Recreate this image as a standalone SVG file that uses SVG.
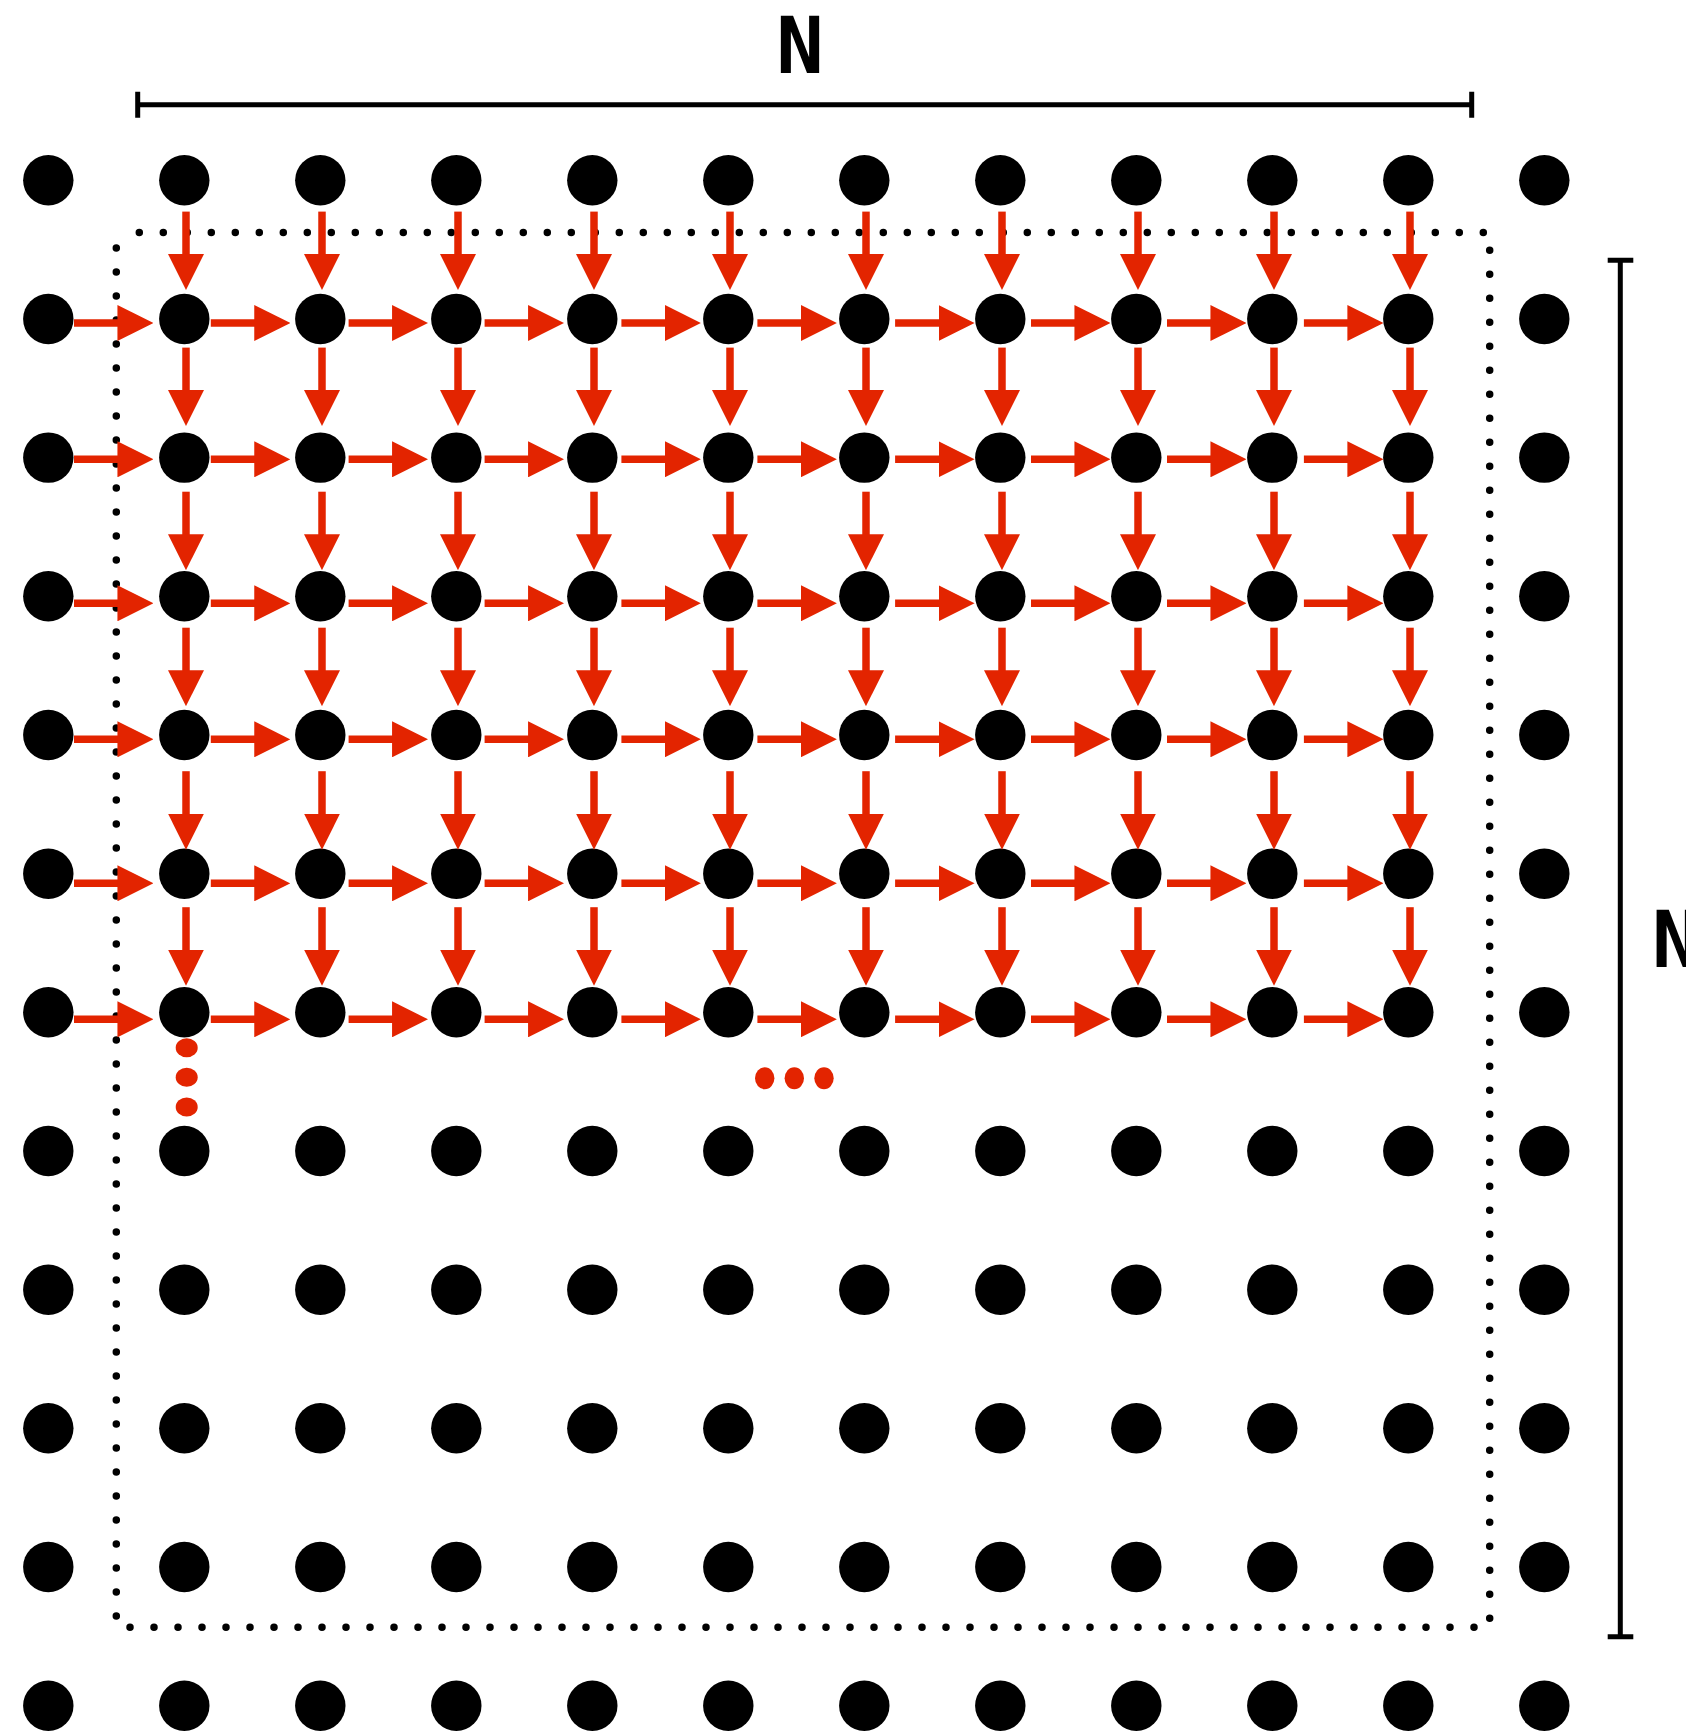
<svg xmlns="http://www.w3.org/2000/svg" width="1686" height="1732" viewBox="0 0 1686 1732">
<style>
.dot{fill:#000}
.ar{stroke:#e32400;stroke-width:7.5;fill:none;marker-end:url(#ah)}
.bd{stroke:#000;stroke-width:7.5;stroke-linecap:round;stroke-dasharray:0 24;fill:none}
.dim{stroke:#000;stroke-width:5;fill:none}
.lbl{font-family:"DejaVu Sans Mono","Liberation Mono",monospace;font-weight:bold;font-size:79px;fill:#000}
.ell{fill:#e32400}
</style>
<defs>
<marker id="ah" markerUnits="userSpaceOnUse" markerWidth="36" markerHeight="36" viewBox="0 0 35 35" refX="5" refY="17.5" orient="auto"><path d="M0,0 L35,17.5 L0,35Z" fill="#e32400"/></marker>
</defs>
<rect width="1686" height="1732" fill="#fff"/>
<g id="dimensions">
<path class="dim" d="M137.7 104.7H1471.7M137.7 91.7V117.7M1471.7 91.7V117.7"/>
<path class="dim" d="M1620.3 260.2V1636.8M1607.7 260.2H1633.3M1607.7 1636.8H1633.3"/>
<text class="lbl" x="800" y="72.7" text-anchor="middle">N</text>
<text class="lbl" x="1652" y="966.7">N</text>
</g>
<g id="border">
<path class="bd" d="M139.3 232.5H1484"/>
<path class="bd" d="M116.3 248V1616.6"/>
<path class="bd" d="M1489.7 250.3V1619"/>
<path class="bd" d="M130 1627.3H1474.3"/>
</g>
<g id="nodes">
<g id="n0_0"><circle class="dot" cx="48.3" cy="180.3" r="25.2"/></g>
<g id="n0_1"><circle class="dot" cx="184.3" cy="180.3" r="25.2"/></g>
<g id="n0_2"><circle class="dot" cx="320.3" cy="180.3" r="25.2"/></g>
<g id="n0_3"><circle class="dot" cx="456.3" cy="180.3" r="25.2"/></g>
<g id="n0_4"><circle class="dot" cx="592.3" cy="180.3" r="25.2"/></g>
<g id="n0_5"><circle class="dot" cx="728.3" cy="180.3" r="25.2"/></g>
<g id="n0_6"><circle class="dot" cx="864.3" cy="180.3" r="25.2"/></g>
<g id="n0_7"><circle class="dot" cx="1000.3" cy="180.3" r="25.2"/></g>
<g id="n0_8"><circle class="dot" cx="1136.3" cy="180.3" r="25.2"/></g>
<g id="n0_9"><circle class="dot" cx="1272.3" cy="180.3" r="25.2"/></g>
<g id="n0_10"><circle class="dot" cx="1408.3" cy="180.3" r="25.2"/></g>
<g id="n0_11"><circle class="dot" cx="1544.3" cy="180.3" r="25.2"/></g>
<g id="n1_0"><circle class="dot" cx="48.3" cy="319" r="25.2"/></g>
<g id="n1_1"><circle class="dot" cx="184.3" cy="319" r="25.2"/></g>
<g id="n1_2"><circle class="dot" cx="320.3" cy="319" r="25.2"/></g>
<g id="n1_3"><circle class="dot" cx="456.3" cy="319" r="25.2"/></g>
<g id="n1_4"><circle class="dot" cx="592.3" cy="319" r="25.2"/></g>
<g id="n1_5"><circle class="dot" cx="728.3" cy="319" r="25.2"/></g>
<g id="n1_6"><circle class="dot" cx="864.3" cy="319" r="25.2"/></g>
<g id="n1_7"><circle class="dot" cx="1000.3" cy="319" r="25.2"/></g>
<g id="n1_8"><circle class="dot" cx="1136.3" cy="319" r="25.2"/></g>
<g id="n1_9"><circle class="dot" cx="1272.3" cy="319" r="25.2"/></g>
<g id="n1_10"><circle class="dot" cx="1408.3" cy="319" r="25.2"/></g>
<g id="n1_11"><circle class="dot" cx="1544.3" cy="319" r="25.2"/></g>
<g id="n2_0"><circle class="dot" cx="48.3" cy="457.6" r="25.2"/></g>
<g id="n2_1"><circle class="dot" cx="184.3" cy="457.6" r="25.2"/></g>
<g id="n2_2"><circle class="dot" cx="320.3" cy="457.6" r="25.2"/></g>
<g id="n2_3"><circle class="dot" cx="456.3" cy="457.6" r="25.2"/></g>
<g id="n2_4"><circle class="dot" cx="592.3" cy="457.6" r="25.2"/></g>
<g id="n2_5"><circle class="dot" cx="728.3" cy="457.6" r="25.2"/></g>
<g id="n2_6"><circle class="dot" cx="864.3" cy="457.6" r="25.2"/></g>
<g id="n2_7"><circle class="dot" cx="1000.3" cy="457.6" r="25.2"/></g>
<g id="n2_8"><circle class="dot" cx="1136.3" cy="457.6" r="25.2"/></g>
<g id="n2_9"><circle class="dot" cx="1272.3" cy="457.6" r="25.2"/></g>
<g id="n2_10"><circle class="dot" cx="1408.3" cy="457.6" r="25.2"/></g>
<g id="n2_11"><circle class="dot" cx="1544.3" cy="457.6" r="25.2"/></g>
<g id="n3_0"><circle class="dot" cx="48.3" cy="596.3" r="25.2"/></g>
<g id="n3_1"><circle class="dot" cx="184.3" cy="596.3" r="25.2"/></g>
<g id="n3_2"><circle class="dot" cx="320.3" cy="596.3" r="25.2"/></g>
<g id="n3_3"><circle class="dot" cx="456.3" cy="596.3" r="25.2"/></g>
<g id="n3_4"><circle class="dot" cx="592.3" cy="596.3" r="25.2"/></g>
<g id="n3_5"><circle class="dot" cx="728.3" cy="596.3" r="25.2"/></g>
<g id="n3_6"><circle class="dot" cx="864.3" cy="596.3" r="25.2"/></g>
<g id="n3_7"><circle class="dot" cx="1000.3" cy="596.3" r="25.2"/></g>
<g id="n3_8"><circle class="dot" cx="1136.3" cy="596.3" r="25.2"/></g>
<g id="n3_9"><circle class="dot" cx="1272.3" cy="596.3" r="25.2"/></g>
<g id="n3_10"><circle class="dot" cx="1408.3" cy="596.3" r="25.2"/></g>
<g id="n3_11"><circle class="dot" cx="1544.3" cy="596.3" r="25.2"/></g>
<g id="n4_0"><circle class="dot" cx="48.3" cy="735" r="25.2"/></g>
<g id="n4_1"><circle class="dot" cx="184.3" cy="735" r="25.2"/></g>
<g id="n4_2"><circle class="dot" cx="320.3" cy="735" r="25.2"/></g>
<g id="n4_3"><circle class="dot" cx="456.3" cy="735" r="25.2"/></g>
<g id="n4_4"><circle class="dot" cx="592.3" cy="735" r="25.2"/></g>
<g id="n4_5"><circle class="dot" cx="728.3" cy="735" r="25.2"/></g>
<g id="n4_6"><circle class="dot" cx="864.3" cy="735" r="25.2"/></g>
<g id="n4_7"><circle class="dot" cx="1000.3" cy="735" r="25.2"/></g>
<g id="n4_8"><circle class="dot" cx="1136.3" cy="735" r="25.2"/></g>
<g id="n4_9"><circle class="dot" cx="1272.3" cy="735" r="25.2"/></g>
<g id="n4_10"><circle class="dot" cx="1408.3" cy="735" r="25.2"/></g>
<g id="n4_11"><circle class="dot" cx="1544.3" cy="735" r="25.2"/></g>
<g id="n5_0"><circle class="dot" cx="48.3" cy="873.7" r="25.2"/></g>
<g id="n5_1"><circle class="dot" cx="184.3" cy="873.7" r="25.2"/></g>
<g id="n5_2"><circle class="dot" cx="320.3" cy="873.7" r="25.2"/></g>
<g id="n5_3"><circle class="dot" cx="456.3" cy="873.7" r="25.2"/></g>
<g id="n5_4"><circle class="dot" cx="592.3" cy="873.7" r="25.2"/></g>
<g id="n5_5"><circle class="dot" cx="728.3" cy="873.7" r="25.2"/></g>
<g id="n5_6"><circle class="dot" cx="864.3" cy="873.7" r="25.2"/></g>
<g id="n5_7"><circle class="dot" cx="1000.3" cy="873.7" r="25.2"/></g>
<g id="n5_8"><circle class="dot" cx="1136.3" cy="873.7" r="25.2"/></g>
<g id="n5_9"><circle class="dot" cx="1272.3" cy="873.7" r="25.2"/></g>
<g id="n5_10"><circle class="dot" cx="1408.3" cy="873.7" r="25.2"/></g>
<g id="n5_11"><circle class="dot" cx="1544.3" cy="873.7" r="25.2"/></g>
<g id="n6_0"><circle class="dot" cx="48.3" cy="1012.3" r="25.2"/></g>
<g id="n6_1"><circle class="dot" cx="184.3" cy="1012.3" r="25.2"/></g>
<g id="n6_2"><circle class="dot" cx="320.3" cy="1012.3" r="25.2"/></g>
<g id="n6_3"><circle class="dot" cx="456.3" cy="1012.3" r="25.2"/></g>
<g id="n6_4"><circle class="dot" cx="592.3" cy="1012.3" r="25.2"/></g>
<g id="n6_5"><circle class="dot" cx="728.3" cy="1012.3" r="25.2"/></g>
<g id="n6_6"><circle class="dot" cx="864.3" cy="1012.3" r="25.2"/></g>
<g id="n6_7"><circle class="dot" cx="1000.3" cy="1012.3" r="25.2"/></g>
<g id="n6_8"><circle class="dot" cx="1136.3" cy="1012.3" r="25.2"/></g>
<g id="n6_9"><circle class="dot" cx="1272.3" cy="1012.3" r="25.2"/></g>
<g id="n6_10"><circle class="dot" cx="1408.3" cy="1012.3" r="25.2"/></g>
<g id="n6_11"><circle class="dot" cx="1544.3" cy="1012.3" r="25.2"/></g>
<g id="n7_0"><circle class="dot" cx="48.3" cy="1151" r="25.2"/></g>
<g id="n7_1"><circle class="dot" cx="184.3" cy="1151" r="25.2"/></g>
<g id="n7_2"><circle class="dot" cx="320.3" cy="1151" r="25.2"/></g>
<g id="n7_3"><circle class="dot" cx="456.3" cy="1151" r="25.2"/></g>
<g id="n7_4"><circle class="dot" cx="592.3" cy="1151" r="25.2"/></g>
<g id="n7_5"><circle class="dot" cx="728.3" cy="1151" r="25.2"/></g>
<g id="n7_6"><circle class="dot" cx="864.3" cy="1151" r="25.2"/></g>
<g id="n7_7"><circle class="dot" cx="1000.3" cy="1151" r="25.2"/></g>
<g id="n7_8"><circle class="dot" cx="1136.3" cy="1151" r="25.2"/></g>
<g id="n7_9"><circle class="dot" cx="1272.3" cy="1151" r="25.2"/></g>
<g id="n7_10"><circle class="dot" cx="1408.3" cy="1151" r="25.2"/></g>
<g id="n7_11"><circle class="dot" cx="1544.3" cy="1151" r="25.2"/></g>
<g id="n8_0"><circle class="dot" cx="48.3" cy="1289.7" r="25.2"/></g>
<g id="n8_1"><circle class="dot" cx="184.3" cy="1289.7" r="25.2"/></g>
<g id="n8_2"><circle class="dot" cx="320.3" cy="1289.7" r="25.2"/></g>
<g id="n8_3"><circle class="dot" cx="456.3" cy="1289.7" r="25.2"/></g>
<g id="n8_4"><circle class="dot" cx="592.3" cy="1289.7" r="25.2"/></g>
<g id="n8_5"><circle class="dot" cx="728.3" cy="1289.7" r="25.2"/></g>
<g id="n8_6"><circle class="dot" cx="864.3" cy="1289.7" r="25.2"/></g>
<g id="n8_7"><circle class="dot" cx="1000.3" cy="1289.7" r="25.2"/></g>
<g id="n8_8"><circle class="dot" cx="1136.3" cy="1289.7" r="25.2"/></g>
<g id="n8_9"><circle class="dot" cx="1272.3" cy="1289.7" r="25.2"/></g>
<g id="n8_10"><circle class="dot" cx="1408.3" cy="1289.7" r="25.2"/></g>
<g id="n8_11"><circle class="dot" cx="1544.3" cy="1289.7" r="25.2"/></g>
<g id="n9_0"><circle class="dot" cx="48.3" cy="1428.3" r="25.2"/></g>
<g id="n9_1"><circle class="dot" cx="184.3" cy="1428.3" r="25.2"/></g>
<g id="n9_2"><circle class="dot" cx="320.3" cy="1428.3" r="25.2"/></g>
<g id="n9_3"><circle class="dot" cx="456.3" cy="1428.3" r="25.2"/></g>
<g id="n9_4"><circle class="dot" cx="592.3" cy="1428.3" r="25.2"/></g>
<g id="n9_5"><circle class="dot" cx="728.3" cy="1428.3" r="25.2"/></g>
<g id="n9_6"><circle class="dot" cx="864.3" cy="1428.3" r="25.2"/></g>
<g id="n9_7"><circle class="dot" cx="1000.3" cy="1428.3" r="25.2"/></g>
<g id="n9_8"><circle class="dot" cx="1136.3" cy="1428.3" r="25.2"/></g>
<g id="n9_9"><circle class="dot" cx="1272.3" cy="1428.3" r="25.2"/></g>
<g id="n9_10"><circle class="dot" cx="1408.3" cy="1428.3" r="25.2"/></g>
<g id="n9_11"><circle class="dot" cx="1544.3" cy="1428.3" r="25.2"/></g>
<g id="n10_0"><circle class="dot" cx="48.3" cy="1567" r="25.2"/></g>
<g id="n10_1"><circle class="dot" cx="184.3" cy="1567" r="25.2"/></g>
<g id="n10_2"><circle class="dot" cx="320.3" cy="1567" r="25.2"/></g>
<g id="n10_3"><circle class="dot" cx="456.3" cy="1567" r="25.2"/></g>
<g id="n10_4"><circle class="dot" cx="592.3" cy="1567" r="25.2"/></g>
<g id="n10_5"><circle class="dot" cx="728.3" cy="1567" r="25.2"/></g>
<g id="n10_6"><circle class="dot" cx="864.3" cy="1567" r="25.2"/></g>
<g id="n10_7"><circle class="dot" cx="1000.3" cy="1567" r="25.2"/></g>
<g id="n10_8"><circle class="dot" cx="1136.3" cy="1567" r="25.2"/></g>
<g id="n10_9"><circle class="dot" cx="1272.3" cy="1567" r="25.2"/></g>
<g id="n10_10"><circle class="dot" cx="1408.3" cy="1567" r="25.2"/></g>
<g id="n10_11"><circle class="dot" cx="1544.3" cy="1567" r="25.2"/></g>
<g id="n11_0"><circle class="dot" cx="48.3" cy="1705.7" r="25.2"/></g>
<g id="n11_1"><circle class="dot" cx="184.3" cy="1705.7" r="25.2"/></g>
<g id="n11_2"><circle class="dot" cx="320.3" cy="1705.7" r="25.2"/></g>
<g id="n11_3"><circle class="dot" cx="456.3" cy="1705.7" r="25.2"/></g>
<g id="n11_4"><circle class="dot" cx="592.3" cy="1705.7" r="25.2"/></g>
<g id="n11_5"><circle class="dot" cx="728.3" cy="1705.7" r="25.2"/></g>
<g id="n11_6"><circle class="dot" cx="864.3" cy="1705.7" r="25.2"/></g>
<g id="n11_7"><circle class="dot" cx="1000.3" cy="1705.7" r="25.2"/></g>
<g id="n11_8"><circle class="dot" cx="1136.3" cy="1705.7" r="25.2"/></g>
<g id="n11_9"><circle class="dot" cx="1272.3" cy="1705.7" r="25.2"/></g>
<g id="n11_10"><circle class="dot" cx="1408.3" cy="1705.7" r="25.2"/></g>
<g id="n11_11"><circle class="dot" cx="1544.3" cy="1705.7" r="25.2"/></g>
</g>
<g id="connectors">
<path class="ar" d="M74 323H122.6"/><path class="ar" d="M210.8 323H259.4"/><path class="ar" d="M348.6 323H397.2"/><path class="ar" d="M484.6 323H533.2"/><path class="ar" d="M621.4 323H670"/><path class="ar" d="M757.4 323H806"/><path class="ar" d="M895.1 323H943.7"/><path class="ar" d="M1031 323H1079.6"/><path class="ar" d="M1167 323H1215.6"/><path class="ar" d="M1303.9 323H1352.5"/>
<path class="ar" d="M74 459.3H122.6"/><path class="ar" d="M210.8 459.3H259.4"/><path class="ar" d="M348.6 459.3H397.2"/><path class="ar" d="M484.6 459.3H533.2"/><path class="ar" d="M621.4 459.3H670"/><path class="ar" d="M757.4 459.3H806"/><path class="ar" d="M895.1 459.3H943.7"/><path class="ar" d="M1031 459.3H1079.6"/><path class="ar" d="M1167 459.3H1215.6"/><path class="ar" d="M1303.9 459.3H1352.5"/>
<path class="ar" d="M74 603.3H122.6"/><path class="ar" d="M210.8 603.3H259.4"/><path class="ar" d="M348.6 603.3H397.2"/><path class="ar" d="M484.6 603.3H533.2"/><path class="ar" d="M621.4 603.3H670"/><path class="ar" d="M757.4 603.3H806"/><path class="ar" d="M895.1 603.3H943.7"/><path class="ar" d="M1031 603.3H1079.6"/><path class="ar" d="M1167 603.3H1215.6"/><path class="ar" d="M1303.9 603.3H1352.5"/>
<path class="ar" d="M74 739.3H122.6"/><path class="ar" d="M210.8 739.3H259.4"/><path class="ar" d="M348.6 739.3H397.2"/><path class="ar" d="M484.6 739.3H533.2"/><path class="ar" d="M621.4 739.3H670"/><path class="ar" d="M757.4 739.3H806"/><path class="ar" d="M895.1 739.3H943.7"/><path class="ar" d="M1031 739.3H1079.6"/><path class="ar" d="M1167 739.3H1215.6"/><path class="ar" d="M1303.9 739.3H1352.5"/>
<path class="ar" d="M74 883.3H122.6"/><path class="ar" d="M210.8 883.3H259.4"/><path class="ar" d="M348.6 883.3H397.2"/><path class="ar" d="M484.6 883.3H533.2"/><path class="ar" d="M621.4 883.3H670"/><path class="ar" d="M757.4 883.3H806"/><path class="ar" d="M895.1 883.3H943.7"/><path class="ar" d="M1031 883.3H1079.6"/><path class="ar" d="M1167 883.3H1215.6"/><path class="ar" d="M1303.9 883.3H1352.5"/>
<path class="ar" d="M74 1019.3H122.6"/><path class="ar" d="M210.8 1019.3H259.4"/><path class="ar" d="M348.6 1019.3H397.2"/><path class="ar" d="M484.6 1019.3H533.2"/><path class="ar" d="M621.4 1019.3H670"/><path class="ar" d="M757.4 1019.3H806"/><path class="ar" d="M895.1 1019.3H943.7"/><path class="ar" d="M1031 1019.3H1079.6"/><path class="ar" d="M1167 1019.3H1215.6"/><path class="ar" d="M1303.9 1019.3H1352.5"/>
<path class="ar" d="M186 211.6V259.2"/><path class="ar" d="M322 211.6V259.2"/><path class="ar" d="M458 211.6V259.2"/><path class="ar" d="M594 211.6V259.2"/><path class="ar" d="M730 211.6V259.2"/><path class="ar" d="M866 211.6V259.2"/><path class="ar" d="M1002 211.6V259.2"/><path class="ar" d="M1138 211.6V259.2"/><path class="ar" d="M1274 211.6V259.2"/><path class="ar" d="M1410 211.6V259.2"/>
<path class="ar" d="M186 347.6V395.2"/><path class="ar" d="M322 347.6V395.2"/><path class="ar" d="M458 347.6V395.2"/><path class="ar" d="M594 347.6V395.2"/><path class="ar" d="M730 347.6V395.2"/><path class="ar" d="M866 347.6V395.2"/><path class="ar" d="M1002 347.6V395.2"/><path class="ar" d="M1138 347.6V395.2"/><path class="ar" d="M1274 347.6V395.2"/><path class="ar" d="M1410 347.6V395.2"/>
<path class="ar" d="M186 491.7V539.3"/><path class="ar" d="M322 491.7V539.3"/><path class="ar" d="M458 491.7V539.3"/><path class="ar" d="M594 491.7V539.3"/><path class="ar" d="M730 491.7V539.3"/><path class="ar" d="M866 491.7V539.3"/><path class="ar" d="M1002 491.7V539.3"/><path class="ar" d="M1138 491.7V539.3"/><path class="ar" d="M1274 491.7V539.3"/><path class="ar" d="M1410 491.7V539.3"/>
<path class="ar" d="M186 627.7V675.3"/><path class="ar" d="M322 627.7V675.3"/><path class="ar" d="M458 627.7V675.3"/><path class="ar" d="M594 627.7V675.3"/><path class="ar" d="M730 627.7V675.3"/><path class="ar" d="M866 627.7V675.3"/><path class="ar" d="M1002 627.7V675.3"/><path class="ar" d="M1138 627.7V675.3"/><path class="ar" d="M1274 627.7V675.3"/><path class="ar" d="M1410 627.7V675.3"/>
<path class="ar" d="M186 771.2V818.8"/><path class="ar" d="M322 771.2V818.8"/><path class="ar" d="M458 771.2V818.8"/><path class="ar" d="M594 771.2V818.8"/><path class="ar" d="M730 771.2V818.8"/><path class="ar" d="M866 771.2V818.8"/><path class="ar" d="M1002 771.2V818.8"/><path class="ar" d="M1138 771.2V818.8"/><path class="ar" d="M1274 771.2V818.8"/><path class="ar" d="M1410 771.2V818.8"/>
<path class="ar" d="M186 907.2V954.8"/><path class="ar" d="M322 907.2V954.8"/><path class="ar" d="M458 907.2V954.8"/><path class="ar" d="M594 907.2V954.8"/><path class="ar" d="M730 907.2V954.8"/><path class="ar" d="M866 907.2V954.8"/><path class="ar" d="M1002 907.2V954.8"/><path class="ar" d="M1138 907.2V954.8"/><path class="ar" d="M1274 907.2V954.8"/><path class="ar" d="M1410 907.2V954.8"/>
</g>
<g id="ellipsis">
<ellipse class="ell" cx="186.7" cy="1047.7" rx="11" ry="9.5"/>
<ellipse class="ell" cx="186.7" cy="1077.3" rx="11" ry="9.5"/>
<ellipse class="ell" cx="186.7" cy="1107" rx="11" ry="9.5"/>
<ellipse class="ell" cx="764.7" cy="1078.3" rx="9.7" ry="11"/>
<ellipse class="ell" cx="794.3" cy="1078.3" rx="9.7" ry="11"/>
<ellipse class="ell" cx="824" cy="1078.3" rx="9.7" ry="11"/>
</g>
</svg>
